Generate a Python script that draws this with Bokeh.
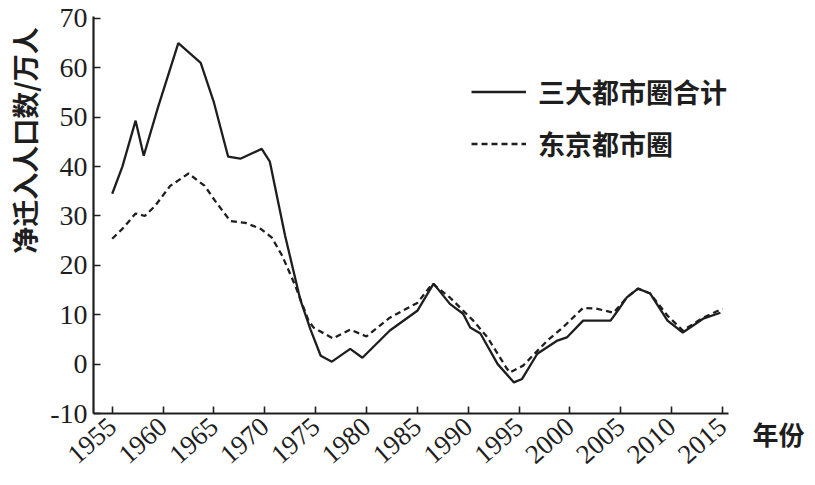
import math
from bokeh.plotting import figure
from bokeh.models import Range1d, Legend, LegendItem, Label, FixedTicker
from bokeh.embed import file_html
from bokeh.resources import INLINE

# 三大都市圈合计 (solid)
years_total = [1955, 1956, 1957.3, 1958.1, 1959.5, 1961.5, 1963.7, 1965.0, 1966.4, 1967.6,
               1969.7, 1970.5, 1972.0, 1973.5, 1974.5, 1975.5, 1976.6, 1978.4, 1979.6,
               1982.3, 1985.0, 1986.6, 1988.2, 1989.5, 1990.2, 1991.2, 1992.9, 1994.5,
               1995.3, 1996.8, 1998.7, 1999.7, 2001.3, 2004.0, 2004.7, 2005.6, 2006.7,
               2007.9, 2009.6, 2011.1, 2013.1, 2014.8]
values_total = [34.5, 40.0, 49.3, 42.2, 52.0, 65.0, 61.0, 53.0, 42.0, 41.6,
                43.6, 41.0, 26.0, 13.0, 7.0, 1.7, 0.5, 3.1, 1.3,
                6.8, 10.8, 16.3, 12.2, 10.2, 7.4, 6.2, 0.0, -3.7,
                -3.0, 2.1, 4.7, 5.4, 8.8, 8.8, 10.8, 13.5, 15.3,
                14.3, 8.8, 6.4, 9.2, 10.4]

# 东京都市圈 (dashed)
years_tokyo = [1955, 1956, 1957.3, 1958.2, 1959.2, 1960.7, 1962.5, 1964.1, 1965.1, 1966.6,
               1968.1, 1969.6, 1970.7, 1971.7, 1973.0, 1974.3, 1974.8, 1976.7, 1978.4,
               1980.0, 1982.3, 1985.0, 1986.5, 1988.2, 1990.5, 1991.9, 1993.8, 1994.1,
               1995.4, 1997.8, 1999.3, 2001.3, 2002.7, 2004.3, 2005.6, 2006.7, 2007.9,
               2009.6, 2011.1, 2013.1, 2015.0]
values_tokyo = [25.4, 27.4, 30.5, 30.0, 32.0, 36.1, 38.6, 36.1, 33.1, 29.0,
                28.6, 27.4, 25.6, 22.0, 15.9, 8.8, 7.4, 5.2, 7.0,
                5.6, 9.4, 12.4, 16.3, 13.5, 8.8, 5.4, -0.9, -1.7,
                -0.3, 4.8, 7.4, 11.4, 11.2, 10.4, 13.5, 15.3, 14.3,
                9.8, 6.8, 9.4, 11.2]

x_ticks = [1955, 1960, 1965, 1970, 1975, 1980, 1985, 1990, 1995, 2000, 2005, 2010, 2015]
y_ticks = [-10, 0, 10, 20, 30, 40, 50, 60, 70]
y_tick_labels = {t: str(t) for t in y_ticks}

series_names = ["三大都市圈合计", "东京都市圈"]
y_axis_title = "净迁入人口数/万人"
x_axis_title = "年份"

# axis extents (data units)
x_axis_start, x_axis_end = 1953.16, 2015.6
y_axis_start, y_axis_end = -10, 70.4

ink = "#1e1e1e"
cjk = "Noto Sans CJK SC"
serif = "Liberation Serif"

p = figure(width=815, height=485, output_backend="svg", toolbar_location=None,
           x_range=Range1d(1944.016, 2024.15), y_range=Range1d(-24.58, 73.64),
           min_border_left=0, min_border_right=0, min_border_top=0, min_border_bottom=0)
p.outline_line_color = None
p.xgrid.visible = False
p.ygrid.visible = False
p.background_fill_color = "white"
p.border_fill_color = "white"

r1 = p.line(years_total, values_total, line_color=ink, line_width=2.3)
r2 = p.line(years_tokyo, values_tokyo, line_color=ink, line_width=2.3, line_dash="6 4")

for ax in (p.xaxis[0], p.yaxis[0]):
    ax.axis_line_color = ink
    ax.axis_line_width = 2.2
    ax.major_tick_line_color = ink
    ax.major_tick_line_width = 1.6
    ax.major_tick_in = 7
    ax.major_tick_out = 0
    ax.minor_tick_line_color = None
    ax.major_label_text_font = serif
    ax.major_label_text_color = ink

p.xaxis[0].fixed_location = y_axis_start
p.xaxis[0].bounds = (x_axis_start, x_axis_end)
p.yaxis[0].fixed_location = x_axis_start
p.yaxis[0].bounds = (y_axis_start, y_axis_end)

p.xaxis[0].ticker = FixedTicker(ticks=x_ticks)
p.yaxis[0].ticker = FixedTicker(ticks=y_ticks)
p.yaxis[0].major_label_overrides = y_tick_labels
p.xaxis[0].major_label_text_font_size = "27px"
p.yaxis[0].major_label_text_font_size = "28px"
p.xaxis[0].major_label_orientation = 0.72
p.xaxis[0].major_label_standoff = 9
p.yaxis[0].major_label_standoff = 6

legend = Legend(items=[LegendItem(label=series_names[0], renderers=[r1]),
                       LegendItem(label=series_names[1], renderers=[r2])],
                location=(471, 322), orientation="vertical",
                glyph_width=55, glyph_height=39, label_height=39, spacing=13,
                label_standoff=12, padding=0, margin=0,
                border_line_color=None, background_fill_alpha=0,
                label_text_font=cjk, label_text_font_size="27px",
                label_text_font_style="bold", label_text_color=ink)
p.add_layout(legend)

p.add_layout(Label(x=1946.4, y=45.3, text=y_axis_title, angle=math.pi / 2,
                   text_align="center", text_baseline="middle",
                   text_font=cjk, text_font_size="27px", text_font_style="bold",
                   text_color=ink))
p.add_layout(Label(x=2017.96, y=-14.1, text=x_axis_title,
                   text_align="left", text_baseline="middle",
                   text_font=cjk, text_font_size="26px", text_font_style="bold",
                   text_color=ink))

open("out.html", "w").write(file_html(p, INLINE))
